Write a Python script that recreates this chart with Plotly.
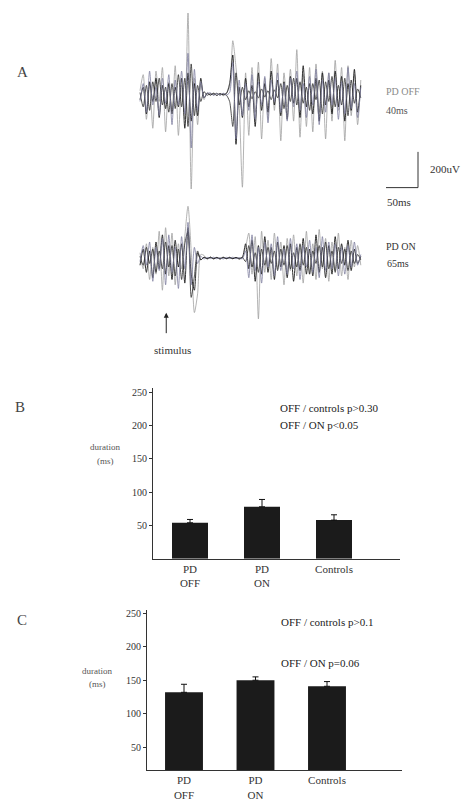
import plotly.graph_objects as go

# ---------------- data ----------------
# EMG sweeps, sampled every 5 ms (uV), four superimposed sweeps per condition
DT_MS = 5
off_a = [20, 110, -140, 60, -190, 130, -40, 150, -210, 70,
         -90, 160, -230, 50, -140, 455, -530, 90, -170, 60,
         -30, 10, -5, 8, -6, 5, -8, 6, 40, 300,
         150, -60, -520, 120, -230, 150, -100, 180, -250, 90,
         -140, 200, -90, 170, -260, 120, -70, 140, -150, 250,
         -240, 110, -180, 150, -210, 170, -100, 130, -250, 120,
         -150, 190, -90, 150, -260, 160, -120, 110, -170, 80]
off_b = [-40, 60, -100, 130, -60, 40, -120, 90, -50, 110,
         -170, 80, -60, 130, -110, 230, -300, 140, -90, 70,
         -20, 5, 8, -6, 4, -5, 6, -4, 10, 180,
         -250, 80, -120, 60, -90, 110, -140, 70, -60, 100,
         -160, 80, -40, 120, -100, 60, -150, 90, -70, 130,
         -90, 60, -130, 100, -60, 140, -170, 80, -100, 120,
         -60, 90, -140, 70, -110, 150, -80, 60, -130, 40]
off_c = [10, -70, 50, -90, 70, -40, 90, -60, 40, -100,
         60, -80, 110, -70, 90, -180, 170, -120, 50, -40,
         15, -5, 4, -3, 6, -4, 3, -5, -40, -180,
         120, -60, 40, -30, 20, -25, 15, -20, 30, -15,
         20, -30, 25, -20, 60, -80, 50, -40, 90, -60,
         70, -50, 40, -90, 60, -30, 80, -110, 70, -40,
         100, -70, 50, -60, 90, -120, 80, -50, 30, -20]
off_d = [-30, 40, -110, 70, -40, 90, -130, 50, -80, 60,
         -110, 40, -70, 90, -190, 120, -150, 60, -120, 90,
         -20, 6, -4, 5, -6, 4, -3, 5, 60, 220,
         -280, 40, -130, 90, -70, 50, -180, 120, -90, 60,
         -100, 130, -60, 80, -120, 70, -140, 100, -50, 90,
         -130, 160, -70, 60, -110, 90, -150, 120, -60, 80,
         -110, 130, -70, 100, -150, 60, -90, 140, -100, 50]

on_a = [30, -60, 80, -120, 60, -90, 150, -180, 170, -100,
        140, -150, 80, -60, 120, 290, 40, -305, -200, 20,
        15, -8, 5, -6, 4, -5, 6, -4, 5, -3,
        4, -5, 3, 60, 140, -90, 120, -340, 150, -80,
        100, -120, 140, -60, 90, -150, 110, -70, 130, -100,
        60, -140, 150, -90, 80, -120, 160, -60, 110, -130,
        90, -70, 140, -100, 60, -120, 100, -50, 70, -40]
on_b = [-20, 70, -40, 90, -130, 60, -70, 110, -150, 130,
        -80, 60, -170, 120, -60, 200, -150, 60, -30, 10,
        -5, 4, -3, 5, -4, 3, -5, 4, -3, 5,
        -4, 3, -5, 40, -110, 130, -70, 60, -140, 90,
        -50, 80, -100, 120, -70, 50, -90, 110, -60, 80,
        -120, 70, -50, 100, -80, 60, -110, 120, -70, 90,
        -60, 80, -100, 60, -90, 70, -50, 90, -40, 20]
on_c = [10, -40, 60, -30, 50, -80, 40, -60, 90, -50,
        70, -100, 50, -120, 80, 150, -220, -100, 40, -10,
        5, -3, 4, -2, 3, -4, 2, -3, 4, -2,
        3, -2, 4, -20, 70, -50, 30, -80, 50, -40,
        60, -30, 40, -70, 50, -40, 70, -60, 30, -50,
        80, -40, 60, -90, 40, -30, 70, -50, 90, -60,
        40, -80, 60, -30, 50, -70, 40, -30, 20, -10]
on_d = [-40, 50, -80, 40, -110, 90, -60, 130, -90, 70,
        -120, 100, -50, 80, -140, 170, -90, -180, 30, -10,
        4, -3, 5, -4, 3, -5, 4, -3, 2, -4,
        3, -5, 4, 80, -60, 100, -130, 70, -90, 120,
        -80, 60, -120, 90, -50, 70, -110, 80, -130, 60,
        -70, 110, -90, 50, -100, 130, -80, 60, -110, 70,
        -90, 120, -60, 80, -40, 100, -70, 50, -30, 10]

STIMULUS_MS = 41
SCALE_MS, SCALE_UV = 50, 200

# group means and SEM (ms)
groups = ["PD<br>OFF", "PD<br>ON", "Controls"]
silent_mean = [54, 78, 58]
silent_sem = [5, 11, 8]
burst_mean = [132, 150, 141]
burst_sem = [12, 5, 7]
y_ticks = [50, 100, 150, 200, 250]

# ---------------- layout helpers ----------------
W, H = 466, 801
SERIF = "Liberation Serif"


def px(x):
    return x / W


def py(y):
    return 1 - y / H


MS_PER_PX = SCALE_MS / 32.0
UV_PER_PX = SCALE_UV / 36.0

fig = go.Figure()

sweep_styles = [("#a0a0a0", 0.8), ("#1a1a1a", 0.9), ("#2a2a2a", 0.8), ("#7e7e9e", 0.8)]


def add_sweeps(sweeps, yaxis):
    for vals, (col, lw) in zip(sweeps, sweep_styles):
        t = [i * DT_MS for i in range(len(vals))]
        fig.add_trace(go.Scatter(x=t, y=vals, mode="lines", xaxis="x", yaxis=yaxis,
                                 line=dict(color=col, width=lw, shape="spline", smoothing=0.7),
                                 hoverinfo="skip"))


add_sweeps([off_a, off_d, off_c, off_b], "y")
add_sweeps([on_a, on_d, on_c, on_b], "y2")

# bar panels
err_style = dict(type="data", symmetric=False, color="#111111", thickness=1, width=3)
fig.add_trace(go.Bar(x=[0, 1, 2], y=silent_mean, width=0.5, xaxis="x2", yaxis="y3",
                     marker=dict(color="#1b1b1b", line=dict(width=0)),
                     error_y=dict(array=silent_sem, arrayminus=[0, 0, 0], **err_style)))
fig.add_trace(go.Bar(x=[0, 1, 2], y=burst_mean, width=0.53, xaxis="x3", yaxis="y4",
                     marker=dict(color="#1b1b1b", line=dict(width=0)),
                     error_y=dict(array=burst_sem, arrayminus=[0, 0, 0], **err_style)))

hidden = dict(visible=False, fixedrange=True)
tickfont = dict(family=SERIF, size=10, color="#333333")
catfont = dict(family=SERIF, size=11, color="#333333")

fig.update_layout(
    width=W, height=H, margin=dict(l=0, r=0, t=0, b=0),
    paper_bgcolor="white", plot_bgcolor="white", showlegend=False,
    font=dict(family=SERIF, color="#333333"),
    xaxis=dict(domain=[px(130), 1], range=[(130 - 140) * MS_PER_PX, (466 - 140) * MS_PER_PX], **hidden),
    yaxis=dict(domain=[py(200), 1], range=[(92 - 200) * UV_PER_PX, 92 * UV_PER_PX], anchor="x", **hidden),
    yaxis2=dict(domain=[py(345), py(195)], range=[(257 - 345) * UV_PER_PX, (257 - 195) * UV_PER_PX],
                anchor="x", **hidden),
    xaxis2=dict(domain=[px(153), px(400)], range=[-37 / 72, 210 / 72], anchor="y3",
                tickvals=[0, 1, 2], ticktext=groups, ticks="", tickfont=catfont,
                showline=True, linecolor="#333333", linewidth=1, showgrid=False, zeroline=False),
    yaxis3=dict(domain=[py(560), py(388)], range=[0, 256], anchor="x2",
                tickvals=y_ticks, ticks="outside", ticklen=3, tickcolor="#333333", tickfont=tickfont,
                showline=True, linecolor="#333333", linewidth=1, showgrid=False, zeroline=False),
    xaxis3=dict(domain=[px(147), px(402)], range=[-37 / 71.5, 218 / 71.5], anchor="y4",
                tickvals=[0, 1, 2], ticktext=groups, ticks="", tickfont=catfont,
                showline=True, linecolor="#333333", linewidth=1, showgrid=False, zeroline=False),
    yaxis4=dict(domain=[py(773), py(612)], range=[16, 254], anchor="x3",
                tickvals=y_ticks, ticks="outside", ticklen=3, tickcolor="#333333", tickfont=tickfont,
                showline=True, linecolor="#333333", linewidth=1, showgrid=False, zeroline=False),
)

# calibration bar (50 ms / 200 uV) on the OFF sweeps' axes
cal_t0 = (386 - 140) * MS_PER_PX
cal_v0 = (92 - 186) * UV_PER_PX
fig.add_shape(type="line", xref="x", yref="y", x0=cal_t0, x1=cal_t0 + SCALE_MS,
              y0=cal_v0, y1=cal_v0, line=dict(color="#333333", width=1))
fig.add_shape(type="line", xref="x", yref="y", x0=cal_t0 + SCALE_MS, x1=cal_t0 + SCALE_MS,
              y0=cal_v0, y1=cal_v0 + SCALE_UV, line=dict(color="#333333", width=1))


def text(x, y, s, size=11, color="#333333", xanchor="left"):
    fig.add_annotation(x=px(x), y=py(y), xref="paper", yref="paper", text=s, showarrow=False,
                       xanchor=xanchor, yanchor="middle",
                       font=dict(family=SERIF, size=size, color=color))


text(428, 167, "200uV", 11)
text(385, 200, "50ms", 11)
text(384, 89, "PD OFF", 10, "#8a8a8a")
text(384, 108, "40ms", 10, "#555555")
text(384, 245, "PD ON", 10, "#333333")
text(385, 262, "65ms", 10, "#333333")

# stimulus marker under the ON sweeps
fig.add_annotation(x=STIMULUS_MS, y=(257 - 312) * UV_PER_PX, xref="x", yref="y2",
                   text="", showarrow=True, arrowhead=2, arrowsize=1, arrowwidth=1,
                   arrowcolor="#222222", ax=0, ay=22)
text(172, 350, "stimulus", 11, "#333333", "center")

# panel letters
text(22, 70, "A", 15, "#444444", "center")
text(20, 407, "B", 15, "#444444", "center")
text(22, 622, "C", 15, "#444444", "center")

# y-axis titles
text(105, 447, "duration", 9, "#555555", "center")
text(105, 461, "(ms)", 9, "#555555", "center")
text(97, 673, "duration", 9, "#555555", "center")
text(97, 686, "(ms)", 9, "#555555", "center")

# statistics
text(278, 408, "OFF / controls p&gt;0.30", 11, "#222222")
text(278, 425, "OFF / ON p&lt;0.05", 11, "#222222")
text(279, 624, "OFF / controls p&gt;0.1", 11, "#222222")
text(279, 665, "OFF / ON p=0.06", 11, "#222222")

fig.write_html("out.html")
